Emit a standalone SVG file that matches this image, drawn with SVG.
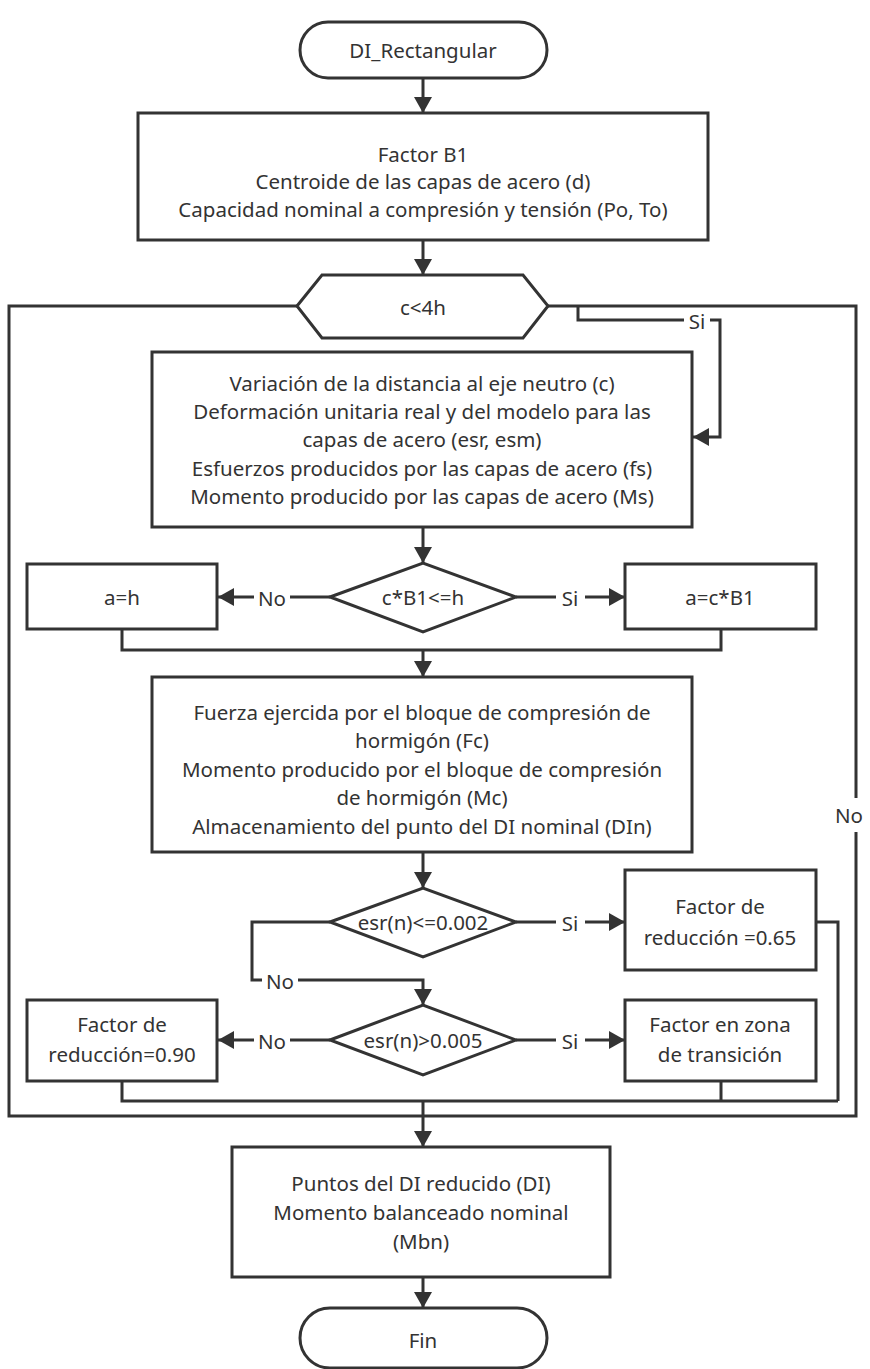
<svg xmlns="http://www.w3.org/2000/svg" width="870" height="1369" viewBox="0 0 870 1369">
  <style>
    .shape { fill: #ffffff; stroke: #333333; stroke-width: 3; }
    .wire { fill: none; stroke: #333333; stroke-width: 3; }
    .arrow { fill: none; stroke: #333333; stroke-width: 3; marker-end: url(#ah); }
    text { font-family: "Noto Sans", "Open Sans", "Liberation Sans", sans-serif; font-size: 20.5px; fill: #333333; text-anchor: middle; dominant-baseline: central; }
    .lbl { fill: #ffffff; stroke: none; }
  </style>
  <defs>
    <marker id="ah" viewBox="0 0 16 18" refX="16" refY="9" markerWidth="16" markerHeight="18" orient="auto" markerUnits="userSpaceOnUse">
      <path d="M0,0 L16,9 L0,18 z" fill="#333333"/>
    </marker>
  </defs>
  <rect width="870" height="1369" fill="#ffffff"/>

  <!-- connectors -->
  <g id="connectors">
    <path class="arrow" d="M423,78 V113"/>
    <path class="arrow" d="M423,240 V275"/>
    <!-- loop: left return and right exit of c<4h -->
    <path class="wire" d="M297,306 H9 V1116 H856 V306 H548"/>
    <!-- Si branch of c<4h -->
    <path class="wire" d="M578,306 V320 H684"/>
    <path class="arrow" d="M710,320 H720 V437 H693"/>
    <path class="arrow" d="M423,527 V563"/>
    <!-- c*B1<=h branches -->
    <path class="wire" d="M330,597 H290"/>
    <path class="arrow" d="M254,597 H218"/>
    <path class="wire" d="M516,597 H556"/>
    <path class="arrow" d="M585,597 H625"/>
    <path class="wire" d="M122,629 V650 H721 V629"/>
    <path class="arrow" d="M423,650 V677"/>
    <path class="arrow" d="M423,852 V888"/>
    <!-- esr(n)<=0.002 branches -->
    <path class="wire" d="M516,922 H556"/>
    <path class="arrow" d="M585,922 H625"/>
    <path class="wire" d="M330,922 H252 V980 H262"/>
    <path class="arrow" d="M298,980 H423 V1005"/>
    <path class="wire" d="M816,922 H838 V1101"/>
    <!-- esr(n)>0.005 branches -->
    <path class="wire" d="M330,1040 H290"/>
    <path class="arrow" d="M254,1040 H218"/>
    <path class="wire" d="M516,1040 H556"/>
    <path class="arrow" d="M585,1040 H625"/>
    <path class="wire" d="M122,1081 V1101 H838"/>
    <path class="wire" d="M721,1081 V1101"/>
    <path class="arrow" d="M423,1101 V1147"/>
    <path class="arrow" d="M423,1277 V1308"/>
    <!-- branch labels -->
    <rect class="lbl" x="836" y="798" width="32" height="34"/>
    <text x="849" y="815">No</text>
    <text x="697" y="321">Si</text>
    <text x="272" y="598">No</text>
    <text x="570" y="598">Si</text>
    <text x="570" y="923">Si</text>
    <text x="280" y="981">No</text>
    <text x="272" y="1041">No</text>
    <text x="570" y="1041">Si</text>
  </g>

  <g id="start">
    <rect class="shape" x="300" y="22" width="247" height="56" rx="28" ry="28"/>
    <text x="423" y="50">DI_Rectangular</text>
  </g>

  <g id="init">
    <rect class="shape" x="138" y="113" width="570" height="127"/>
    <text x="423" y="154">Factor B1</text>
    <text x="423" y="181">Centroide de las capas de acero (d)</text>
    <text x="423" y="209">Capacidad nominal a compresión y tensión (Po, To)</text>
  </g>

  <g id="loop-c">
    <polygon class="shape" points="297,306 322,275 523,275 548,306 523,338 322,338"/>
    <text x="423" y="307">c&lt;4h</text>
  </g>

  <g id="steel">
    <rect class="shape" x="152" y="352" width="540" height="175"/>
    <text x="422" y="383">Variación de la distancia al eje neutro (c)</text>
    <text x="422" y="411">Deformación unitaria real y del modelo para las</text>
    <text x="422" y="439">capas de acero (esr, esm)</text>
    <text x="422" y="468">Esfuerzos producidos por las capas de acero (fs)</text>
    <text x="422" y="496">Momento producido por las capas de acero (Ms)</text>
  </g>

  <g id="dec-a">
    <polygon class="shape" points="330,597 423,563 516,597 423,632"/>
    <text x="423" y="597">c*B1&lt;=h</text>
  </g>

  <g id="a-h">
    <rect class="shape" x="27" y="564" width="190" height="65"/>
    <text x="122" y="597">a=h</text>
  </g>

  <g id="a-cb1">
    <rect class="shape" x="625" y="564" width="191" height="65"/>
    <text x="720" y="597">a=c*B1</text>
  </g>

  <g id="concrete">
    <rect class="shape" x="152" y="677" width="540" height="175"/>
    <text x="422" y="712">Fuerza ejercida por el bloque de compresión de</text>
    <text x="422" y="740">hormigón (Fc)</text>
    <text x="422" y="769">Momento producido por el bloque de compresión</text>
    <text x="422" y="797">de hormigón (Mc)</text>
    <text x="422" y="826">Almacenamiento del punto del DI nominal (DIn)</text>
  </g>

  <g id="dec-esr1">
    <polygon class="shape" points="330,922 423,888 516,922 423,957"/>
    <text x="423" y="922">esr(n)&lt;=0.002</text>
  </g>

  <g id="f065">
    <rect class="shape" x="625" y="870" width="191" height="100"/>
    <text x="720" y="906">Factor de</text>
    <text x="720" y="937">reducción =0.65</text>
  </g>

  <g id="dec-esr2">
    <polygon class="shape" points="330,1040 423,1005 516,1040 423,1075"/>
    <text x="423" y="1040">esr(n)&gt;0.005</text>
  </g>

  <g id="f090">
    <rect class="shape" x="27" y="1000" width="190" height="81"/>
    <text x="122" y="1024">Factor de</text>
    <text x="122" y="1054">reducción=0.90</text>
  </g>

  <g id="ftrans">
    <rect class="shape" x="625" y="1000" width="191" height="81"/>
    <text x="720" y="1024">Factor en zona</text>
    <text x="720" y="1054">de transición</text>
  </g>

  <g id="result">
    <rect class="shape" x="232" y="1147" width="378" height="130"/>
    <text x="421" y="1183">Puntos del DI reducido (DI)</text>
    <text x="421" y="1212">Momento balanceado nominal</text>
    <text x="421" y="1241">(Mbn)</text>
  </g>

  <g id="end">
    <rect class="shape" x="300" y="1308" width="247" height="60" rx="30" ry="30"/>
    <text x="423" y="1340">Fin</text>
  </g>
</svg>
